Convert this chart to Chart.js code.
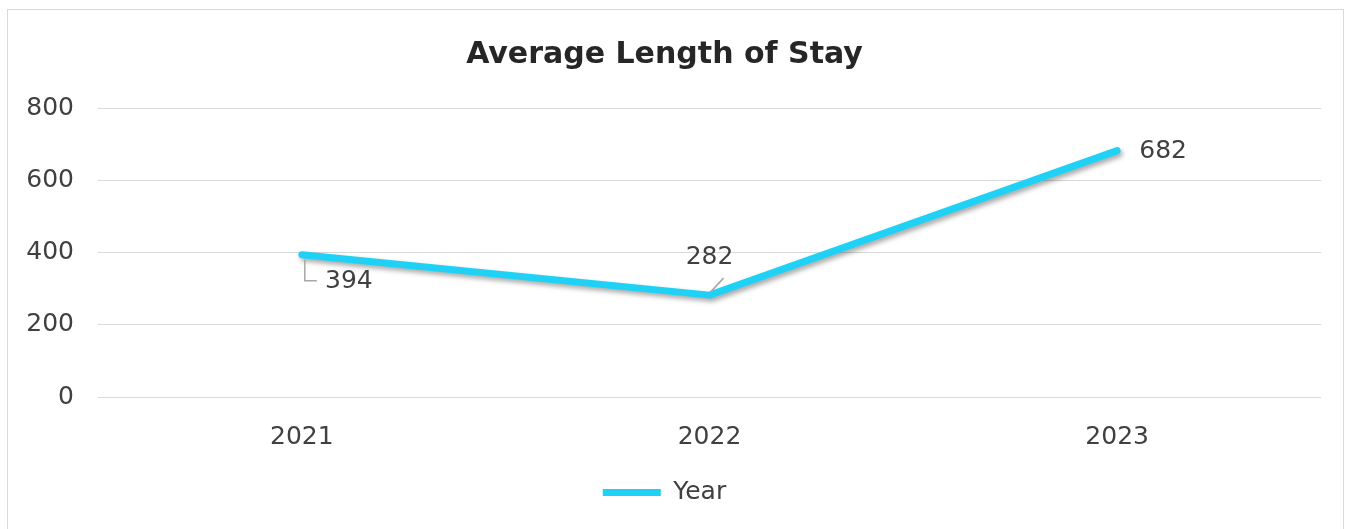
<!DOCTYPE html>
<html>
<head>
<meta charset="utf-8">
<script src="https://cdn.jsdelivr.net/npm/chart.js@4"></script>
<style>
  body { margin: 0; background: #fff; }
  #box { position: absolute; left: 7px; top: 9px; width: 1337px; height: 520px;
         border: 1px solid #d9d9d9; border-bottom: none; box-sizing: border-box; }
  canvas { display: block; }
</style>
</head>
<body>
<div id="box"><canvas id="chart"></canvas></div>
<script>
// data
const years = ['2021', '2022', '2023'];
const stayValues = [394, 282, 682];
const yTicks = [0, 200, 400, 600, 800];

const FONT = '"DejaVu Sans", sans-serif';
const TEXT = '#404040';

// drop shadow under the line
const lineShadow = {
    id: 'lineShadow',
    beforeDatasetDraw(chart) {
        const ctx = chart.ctx;
        ctx.save();
        ctx.shadowColor = 'rgba(0,0,0,0.35)';
        ctx.shadowBlur = 5;
        ctx.shadowOffsetX = 2;
        ctx.shadowOffsetY = 3;
    },
    afterDatasetDraw(chart) {
        chart.ctx.restore();
    }
};

// value labels with leader lines, like the Excel original
const valueLabels = {
    id: 'valueLabels',
    afterDatasetsDraw(chart) {
        const ctx = chart.ctx;
        const pts = chart.getDatasetMeta(0).data;
        const spots = [
            { dx: 47, dy: 27, leader: [[3, 5], [3, 26], [15, 26]] },
            { dx: 0, dy: -38, leader: [[14, -17], [1, -3]] },
            { dx: 46, dy: 1 }
        ];
        ctx.save();
        pts.forEach((p, i) => {
            const s = spots[i];
            if (s.leader) {
                ctx.strokeStyle = '#a6a6a6';
                ctx.lineWidth = 1.5;
                ctx.beginPath();
                s.leader.forEach(([lx, ly], k) => {
                    if (k === 0) ctx.moveTo(p.x + lx, p.y + ly);
                    else ctx.lineTo(p.x + lx, p.y + ly);
                });
                ctx.stroke();
            }
            ctx.fillStyle = TEXT;
            ctx.font = '25px ' + FONT;
            ctx.textAlign = 'center';
            ctx.textBaseline = 'middle';
            ctx.fillText(String(stayValues[i]), p.x + s.dx, p.y + s.dy);
        });
        ctx.restore();
    }
};

const ctx = document.getElementById('chart').getContext('2d');
new Chart(ctx, {
    type: 'line',
    data: {
        labels: years,
        datasets: [{
            label: 'Year',
            data: stayValues,
            borderColor: '#1fd2f5',
            backgroundColor: '#1fd2f5',
            borderWidth: 7,
            borderCapStyle: 'round',
            borderJoinStyle: 'round',
            pointRadius: 0,
            tension: 0
        }]
    },
    options: {
        responsive: true,
        maintainAspectRatio: false,
        animation: false,
        layout: { padding: { left: 0, right: 22, top: 0, bottom: 14 } },
        plugins: {
            title: {
                display: true,
                text: 'Average Length of Stay',
                color: '#262626',
                font: { family: FONT, size: 30, weight: 'bold' },
                padding: { top: 27, bottom: 35 }
            },
            legend: {
                position: 'bottom',
                labels: {
                    usePointStyle: true,
                    pointStyle: 'line',
                    pointStyleWidth: 58,
                    boxHeight: 6,
                    color: TEXT,
                    font: { family: FONT, size: 25 },
                    padding: 10
                }
            },
            tooltip: { enabled: false }
        },
        scales: {
            x: {
                offset: true,
                grid: { display: false, drawTicks: false },
                border: { display: false },
                ticks: { color: TEXT, font: { family: FONT, size: 25 }, padding: 25 },
                afterFit(s) { s.height = 73; }
            },
            y: {
                min: 0,
                max: 800,
                afterBuildTicks(s) { s.ticks = yTicks.map(v => ({ value: v })); },
                grid: { color: '#d9d9d9', lineWidth: 1, drawTicks: false },
                border: { display: false },
                ticks: { color: TEXT, font: { family: FONT, size: 25 }, padding: 24 },
                afterFit(s) { s.width = 90; }
            }
        }
    },
    plugins: [lineShadow, valueLabels]
});
</script>
</body>
</html>
